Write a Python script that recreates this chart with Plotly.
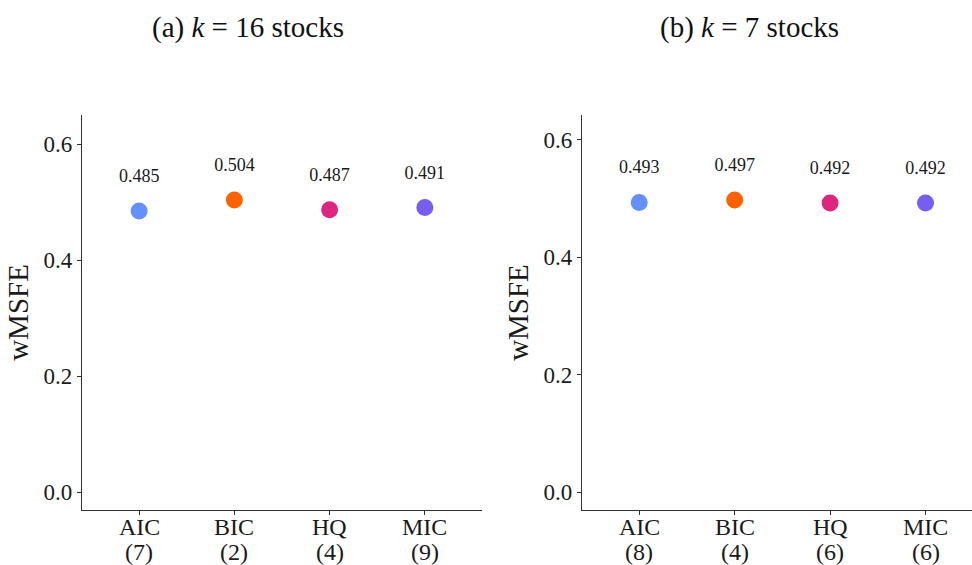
import plotly.graph_objects as go

criteria = ["AIC", "BIC", "HQ", "MIC"]
lags_a = [7, 2, 4, 9]
lags_b = [8, 4, 6, 6]
wmsfe_a = [0.485, 0.504, 0.487, 0.491]
wmsfe_b = [0.493, 0.497, 0.492, 0.492]
colors = ["#648FFF", "#FE6100", "#DC267F", "#785EF0"]
titles = ["(a) <i>k</i> = 16 stocks", "(b) <i>k</i> = 7 stocks"]
yticks = [0.0, 0.2, 0.4, 0.6]

FONT = "Liberation Serif"
label_nudge = 0.057

fig = go.Figure()
annotations = []

panels = [
    (wmsfe_a, lags_a, "x", "y"),
    (wmsfe_b, lags_b, "x2", "y2"),
]
for vals, lags, xa, ya in panels:
    xs = list(range(1, len(criteria) + 1))
    fig.add_trace(go.Scatter(
        x=xs, y=vals, mode="markers", xaxis=xa, yaxis=ya,
        marker=dict(size=17, color=colors, line=dict(width=0)),
        showlegend=False, hoverinfo="skip"))
    fig.add_trace(go.Scatter(
        x=xs, y=[v + label_nudge for v in vals], mode="text", xaxis=xa, yaxis=ya,
        text=[f"{v:.3f}" for v in vals], textposition="middle center",
        textfont=dict(family=FONT, size=18, color="#1a1a1a"),
        showlegend=False, hoverinfo="skip"))
    for xv, c, l in zip(xs, criteria, lags):
        annotations.append(dict(text=c, x=xv, xref=xa, y=1 - 527 / 565, yref="paper",
                                showarrow=False, xanchor="center", yanchor="middle",
                                font=dict(family=FONT, size=24, color="#1a1a1a")))
        annotations.append(dict(text=f"({l})", x=xv, xref=xa, y=1 - 552 / 565, yref="paper",
                                showarrow=False, xanchor="center", yanchor="middle",
                                font=dict(family=FONT, size=24, color="#1a1a1a")))

def xaxis_cfg(domain, rng):
    return dict(
        domain=domain, range=rng, showgrid=False, zeroline=False, automargin=False,
        showline=True, linecolor="#333333", linewidth=1.3,
        ticks="outside", ticklen=4, tickcolor="#333333", tickwidth=1.1,
        tickmode="array", tickvals=list(range(1, len(criteria) + 1)),
        ticktext=[""] * len(criteria),
        fixedrange=True)

def yaxis_cfg(domain, rng, anchor):
    return dict(
        domain=domain, range=rng, anchor=anchor, showgrid=False, zeroline=False,
        automargin=False,
        showline=True, linecolor="#333333", linewidth=1.3,
        ticks="outside", ticklen=4, tickcolor="#333333", tickwidth=1.1,
        tickmode="array", tickvals=yticks, ticktext=[f"{t:.1f}" for t in yticks],
        tickfont=dict(family=FONT, size=23, color="#1a1a1a"),
        title=dict(text="wMSFE", font=dict(family=FONT, size=29, color="#1a1a1a"), standoff=6),
        fixedrange=True)

for i, t in enumerate(titles):
    annotations.append(dict(text=t, x=[248, 749][i] / 972, y=1 - 28 / 565,
                            xref="paper", yref="paper",
                            showarrow=False, xanchor="center", yanchor="middle",
                            font=dict(family=FONT, size=29, color="#111111")))

ydom = [55 / 565, 450 / 565]
fig.update_layout(
    width=972, height=565,
    margin=dict(l=0, r=0, t=0, b=0),
    paper_bgcolor="white", plot_bgcolor="white",
    xaxis=dict(**xaxis_cfg([82 / 972, 482 / 972], [0.4, 4.6]), anchor="y"),
    yaxis=yaxis_cfg(ydom, [-0.0305, 0.6505], "x"),
    xaxis2=dict(**xaxis_cfg([582 / 972, 1.0], [0.4, 4.487]), anchor="y2"),
    yaxis2=yaxis_cfg(ydom, [-0.030, 0.6416], "x2"),
    annotations=annotations,
)

fig.write_html("out.html")
